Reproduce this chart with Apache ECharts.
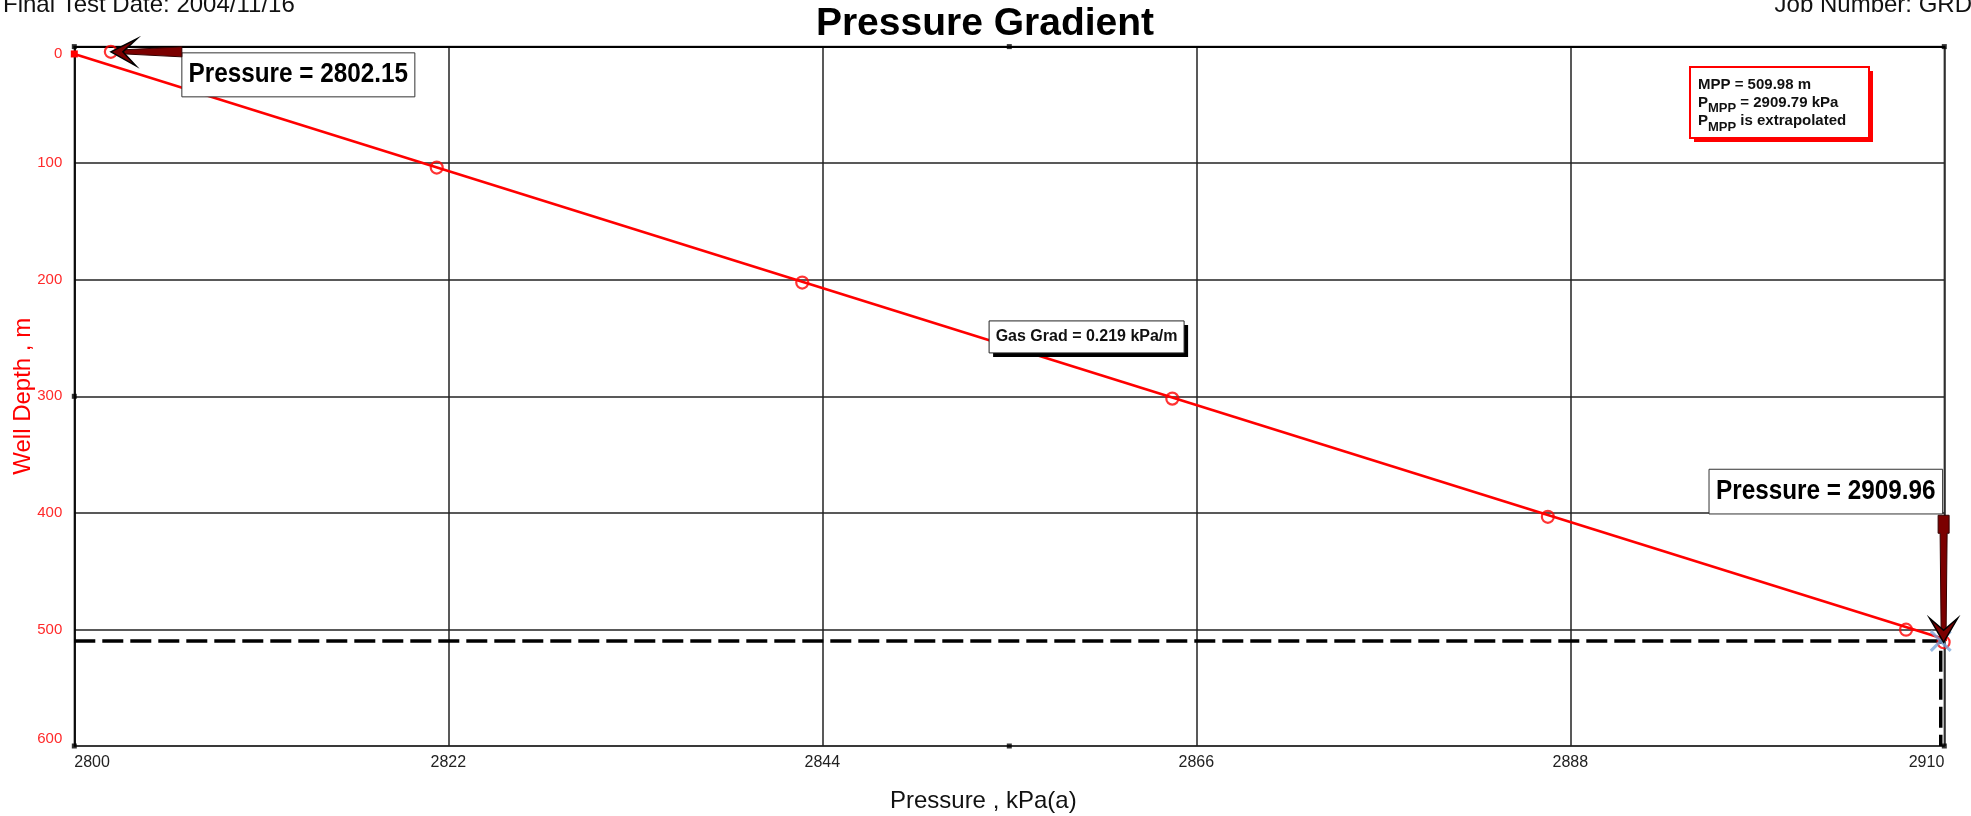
<!DOCTYPE html>
<html><head><meta charset="utf-8">
<script src="https://cdn.jsdelivr.net/npm/echarts@6/dist/echarts.min.js"></script>
<style>html,body{margin:0;padding:0;background:#fff;overflow:hidden}#c{width:1971px;height:816px}</style>
</head><body><div id="c"></div>
<script>
// ---- data ----
const pressureTicks = [2800, 2822, 2844, 2866, 2888, 2910];
const depthTicks = [0, 100, 200, 300, 400, 500, 600];
const measPressure = [2802.15, 2821.32, 2842.82, 2864.59, 2886.68, 2907.75, 2909.96];
const measDepth = [4.5, 103.8, 202.4, 302.0, 403.4, 500.2, 511.0];
const gradPressure = [2800, 2911.6];
const gradDepth = [6.3, 515.5];
const mppPressure = 2909.79;
const mppDepth = 509.98;
const gasGrad = 0.219;
const frameTickPressure = [2800, 2855, 2910, 2800, 2855, 2910, 2800];
const frameTickDepth = [0, 0, 0, 600, 600, 600, 300];
const gradLabelPressure = 2856.4;

const xBase = pressureTicks[0];
const xStep = pressureTicks[1] - pressureTicks[0];
const xMax = pressureTicks[pressureTicks.length - 1] - xBase;
const yMin = depthTicks[0], yMax = depthTicks[depthTicks.length - 1];
const yStep = depthTicks[1] - depthTicks[0];
const RED = '#ff0000';
const FONT = 'Arial, "Liberation Sans", sans-serif';

const chart = echarts.init(document.getElementById('c'), null, {renderer: 'canvas'});

const option = {
  backgroundColor: '#ffffff',
  animation: false,
  grid: {
    left: 74.3, right: 26.7, top: 46.6, bottom: 70,
    show: true, borderColor: '#555', borderWidth: 1.5,
    outerBoundsMode: 'none', containLabel: false
  },
  xAxis: {
    type: 'value', min: 0, max: xMax, interval: xStep,
    name: 'Pressure , kPa(a)', nameLocation: 'middle', nameGap: 43, nameMoveOverlap: false,
    nameTextStyle: {fontFamily: FONT, fontSize: 24, color: '#111', padding: [0, 52, 0, 0]},
    axisLine: {show: true, lineStyle: {color: '#000', width: 2}},
    axisTick: {show: false},
    axisLabel: {
      fontFamily: FONT, fontSize: 16, color: '#222', margin: 9,
      alignMinLabel: 'left', alignMaxLabel: 'right',
      formatter: v => String(Math.round(v + xBase))
    },
    splitLine: {show: true, lineStyle: {color: '#222', width: 1.5}}
  },
  yAxis: {
    type: 'value', inverse: true, min: yMin, max: yMax, interval: yStep,
    name: 'Well Depth , m', nameLocation: 'middle', nameGap: 39, nameMoveOverlap: false,
    nameTextStyle: {fontFamily: FONT, fontSize: 24, color: RED},
    axisLine: {show: true, lineStyle: {color: '#000', width: 1.5}},
    axisTick: {show: false},
    axisLabel: {
      fontFamily: FONT, fontSize: 15, color: '#ff2a2a', margin: 12,
      verticalAlignMinLabel: 'top', verticalAlignMaxLabel: 'bottom'
    },
    splitLine: {show: true, lineStyle: {color: '#222', width: 1.5}}
  },
  series: [
    {
      name: 'gradient', type: 'line', clip: false, z: 3,
      data: gradPressure.map((p, i) => ({
        value: [p - xBase, gradDepth[i]],
        symbol: i === 0 ? 'rect' : 'none', symbolSize: 7
      })),
      itemStyle: {color: RED},
      lineStyle: {color: RED, width: 2.5}
    },
    {
      name: 'mpp-guide', type: 'line', z: 2, symbol: 'none',
      data: [[0, mppDepth], [mppPressure - xBase, mppDepth], [mppPressure - xBase, yMax]],
      lineStyle: {color: '#000', width: 3.5, type: [21, 7]}
    },
    {
      name: 'measured', type: 'scatter', z: 4, symbol: 'circle', symbolSize: 12,
      data: measPressure.map((p, i) => [p - xBase, measDepth[i]]),
      itemStyle: {color: 'rgba(0,0,0,0)', borderColor: RED, borderWidth: 2.2}
    },
    {
      name: 'mpp', type: 'scatter', z: 5, clip: false,
      symbol: 'path://M0,1 L1,0 L5,4 L9,0 L10,1 L6,5 L10,9 L9,10 L5,6 L1,10 L0,9 L4,5 Z',
      symbolSize: 22,
      data: [[mppPressure - xBase, mppDepth]],
      itemStyle: {color: '#7aa6da'}
    },
    {
      name: 'frame-ticks', type: 'scatter', z: 6, clip: false, symbol: 'rect', symbolSize: 5,
      data: frameTickPressure.map((p, i) => [p - xBase, frameTickDepth[i]]),
      itemStyle: {color: '#000'}
    }
  ]
};
chart.setOption(option);

// ---- annotations positioned from data through the chart's scales ----
const px = (p, d) => chart.convertToPixel({gridIndex: 0}, [p - xBase, d]);
const g = [];
const DARK = '#7b0000';

// header texts
g.push({type: 'text', x: 3, y: 5, z: 100, style: {text: 'Final Test Date: 2004/11/16', fontFamily: FONT, fontSize: 24, fill: '#111', align: 'left', verticalAlign: 'middle'}});
g.push({type: 'text', x: 1972, y: 5, z: 100, style: {text: 'Job Number: GRD', fontFamily: FONT, fontSize: 24, fill: '#111', align: 'right', verticalAlign: 'middle'}});
g.push({type: 'text', x: 985, y: 24, z: 100, style: {text: 'Pressure Gradient', fontFamily: FONT, fontSize: 39, fontWeight: 'bold', fill: '#000', align: 'center', verticalAlign: 'middle'}});

// callout 1: first measured point
{
  const [tx, ty] = px(measPressure[0], measDepth[0]);
  g.push({type: 'rect', z: 100, shape: {x: tx + 71, y: ty + 1, width: 233, height: 44}, style: {fill: '#fff', stroke: '#333', lineWidth: 1}});
  g.push({type: 'text', z: 101, x: tx + 187.5, y: ty + 23, scaleX: 0.9,
    style: {text: 'Pressure = ' + measPressure[0].toFixed(2), fontFamily: FONT, fontSize: 27, fontWeight: 'bold', fill: '#000', align: 'center', verticalAlign: 'middle'}});
  g.push({type: 'polygon', z: 102, shape: {points: [[tx + 12, ty - 2], [tx + 71, ty - 5], [tx + 71, ty + 5], [tx + 12, ty + 2]]}, style: {fill: DARK, stroke: '#300', lineWidth: 1}});
  g.push({type: 'polygon', z: 103, shape: {points: [[tx, ty], [tx + 26, ty - 13], [tx + 12, ty], [tx + 25, ty + 14]]}, style: {fill: DARK, stroke: '#000', lineWidth: 1.5}});
}

// callout 2: last point
{
  const k = measPressure.length - 1;
  const [tx, ty] = px(measPressure[k], measDepth[k]);
  g.push({type: 'rect', z: 100, shape: {x: tx - 234.6, y: ty - 173, width: 233.6, height: 44.7}, style: {fill: '#fff', stroke: '#333', lineWidth: 1}});
  g.push({type: 'text', z: 101, x: tx - 117.8, y: ty - 150.6, scaleX: 0.9,
    style: {text: 'Pressure = ' + measPressure[k].toFixed(2), fontFamily: FONT, fontSize: 27, fontWeight: 'bold', fill: '#000', align: 'center', verticalAlign: 'middle'}});
  g.push({type: 'polygon', z: 102, shape: {points: [[tx - 5.5, ty - 127], [tx + 5.5, ty - 127], [tx + 5.5, ty - 109], [tx + 3.5, ty - 109], [tx + 2.5, ty - 12], [tx - 2.5, ty - 12], [tx - 3.5, ty - 109], [tx - 5.5, ty - 109]]}, style: {fill: DARK, stroke: '#300', lineWidth: 1}});
  g.push({type: 'polygon', z: 103, shape: {points: [[tx, ty], [tx - 14, ty - 24], [tx, ty - 12], [tx + 14, ty - 24]]}, style: {fill: DARK, stroke: '#000', lineWidth: 1.5}});
}

// gradient callout on the line
{
  const t = (gradLabelPressure - gradPressure[0]) / (gradPressure[1] - gradPressure[0]);
  const d = gradDepth[0] + t * (gradDepth[1] - gradDepth[0]);
  const [ax, ay] = px(gradLabelPressure, d);
  const bx = ax - 44, by = ay - 33, bw = 195, bh = 32;
  g.push({type: 'rect', z: 99, shape: {x: ax - 8, y: ay - 1.5, width: 16, height: 3}, style: {fill: DARK}});
  g.push({type: 'rect', z: 100, shape: {x: bx + 4, y: by + 4, width: bw, height: bh}, style: {fill: '#000'}});
  g.push({type: 'rect', z: 101, shape: {x: bx, y: by, width: bw, height: bh}, style: {fill: '#fff', stroke: '#222', lineWidth: 1}});
  g.push({type: 'text', z: 102, x: bx + bw / 2, y: by + bh / 2,
    style: {text: 'Gas Grad = ' + gasGrad.toFixed(3) + ' kPa/m', fontFamily: FONT, fontSize: 16, fontWeight: 'bold', fill: '#111', align: 'center', verticalAlign: 'middle'}});
}

// MPP info box (top right)
{
  const bx = 1690, by = 67, bw = 179, bh = 71;
  g.push({type: 'rect', z: 100, shape: {x: bx + 4, y: by + 4, width: bw, height: bh}, style: {fill: RED}});
  g.push({type: 'rect', z: 101, shape: {x: bx, y: by, width: bw, height: bh}, style: {fill: '#fff', stroke: RED, lineWidth: 2}});
  const rich = {
    n: {fontFamily: FONT, fontSize: 15, fontWeight: 'bold', fill: '#111', color: '#111'},
    s: {fontFamily: FONT, fontSize: 13, fontWeight: 'bold', fill: '#111', color: '#111', padding: [12, 0, 0, 0]}
  };
  const rows = [
    '{n|MPP = ' + mppDepth.toFixed(2) + ' m}',
    '{n|P}{s|MPP}{n| = ' + mppPressure.toFixed(2) + ' kPa}',
    '{n|P}{s|MPP}{n| is extrapolated}'
  ];
  const ys = [85, 102.5, 121];
  rows.forEach((r, i) => g.push({type: 'text', z: 102, x: bx + 8, y: ys[i],
    style: {text: r, rich: rich, fontFamily: FONT, fontSize: 15, align: 'left', verticalAlign: 'middle'}}));
}

chart.setOption({graphic: g});
</script>
</body></html>
